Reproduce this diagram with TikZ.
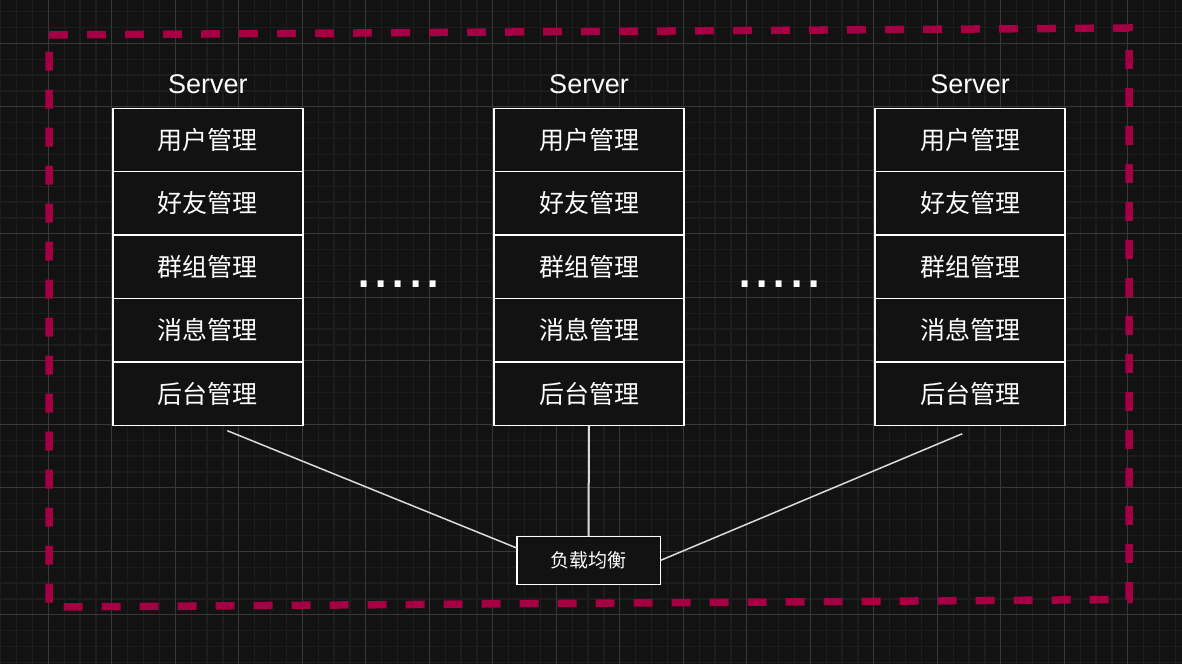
\documentclass[tikz,border=0pt]{standalone}
\usepackage{fontspec}
\setmainfont{Liberation Sans}
\newfontfamily\cjkfont{Noto Sans CJK SC}
\usetikzlibrary{positioning}
\definecolor{bgdark}{HTML}{121212}
\definecolor{gridminor}{HTML}{1D1D1D}
\definecolor{gridmajor}{HTML}{383838}
\definecolor{crimson}{HTML}{A50044}
\definecolor{linegrey}{HTML}{DCDCDC}

\tikzset{
  modbox/.style={draw=white, line width=1.5, fill=bgdark, minimum width=190, minimum height=63.4,
    inner sep=0, outer sep=0, text=white, font=\cjkfont\fontsize{25}{30}\selectfont},
  servertitle/.style={text=white, anchor=base, font=\fontsize{27}{32}\selectfont},
  moredots/.style={text=white, anchor=base, font=\fontsize{62}{70}\selectfont},
  lbbox/.style={draw=white, line width=1.5, fill=bgdark, minimum width=143.5, minimum height=47.6,
    inner sep=0, outer sep=0, text=white, font=\cjkfont\fontsize{19}{23}\selectfont},
  link/.style={draw=linegrey, line width=1.5},
  borderdash/.style={draw=crimson, line width=7.5, dash pattern=on 19 off 19},
}

\begin{document}
\begin{tikzpicture}[x=1pt, y=-1pt]
  \useasboundingbox (0,0) rectangle (1182,664);
  \fill[bgdark] (0,0) rectangle (1182,664);

  % grid
  \foreach \k in {0,...,74}
    \draw[gridminor, line width=1.2] ({0.675+15.875*\k},0) -- ({0.675+15.875*\k},664);
  \foreach \k in {0,...,41}
    \draw[gridminor, line width=1.2] (0,{11.55+15.875*\k}) -- (1182,{11.55+15.875*\k});
  \foreach \k in {0,...,17}
    \draw[gridmajor, line width=1] ({48.3+63.5*\k},0) -- ({48.3+63.5*\k},664);
  \foreach \k in {0,...,9}
    \draw[gridmajor, line width=1] (0,{43.3+63.5*\k}) -- (1182,{43.3+63.5*\k});

  % cluster frame
  \draw[borderdash] (49,35) -- (1129,28) -- (1129,599.5) -- (49,607) -- cycle;

  % servers
  \foreach \c/\x in {1/207.8, 2/589, 3/970} {
    \node[servertitle] (t\c) at (\x,93.3) {Server};
    \node[modbox, anchor=north] (c\c r1) at (\x,108.3) {用户管理};
    \foreach \r/\p/\txt in {2/1/好友管理, 3/2/群组管理, 4/3/消息管理, 5/4/后台管理}
      \node[modbox, below=0pt of c\c r\p] (c\c r\r) {\txt};
  }

  \node[moredots] (dots1) at (398.5,287.7) {.....};
  \node[moredots] (dots2) at (779.5,287.7) {.....};

  \node[lbbox] (lb) at (588.5,560.5) {负载均衡};

  \coordinate (a1) at (227.3,430.7);
  \coordinate (a3) at (962.3,433.7);
  \draw[link] (a1) -- ([yshift=12.5]lb.west);
  \draw[link, line width=2] (c2r5.south) -- (lb.north);
  \draw[link] (lb.east) -- (a3);
\end{tikzpicture}
\end{document}
